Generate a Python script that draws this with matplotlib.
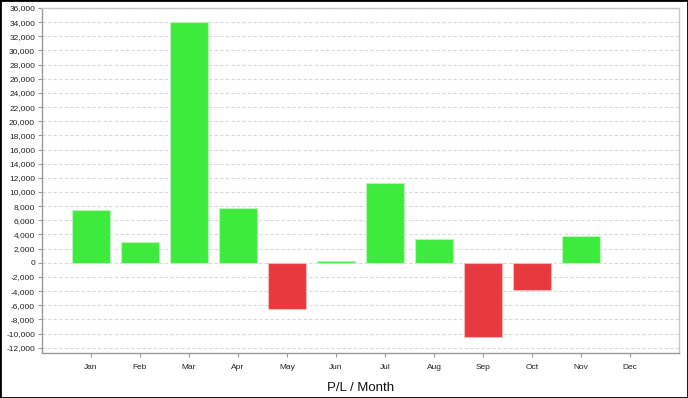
import matplotlib
matplotlib.use("Agg")
import matplotlib.pyplot as plt
from matplotlib.ticker import FuncFormatter, MultipleLocator
from matplotlib.patches import Rectangle

months = ["Jan", "Feb", "Mar", "Apr", "May", "Jun", "Jul", "Aug", "Sep", "Oct", "Nov", "Dec"]
pl_values = [7400, 2900, 34000, 7700, -6600, 200, 11300, 3300, -10500, -3900, 3800, 0]

green = "#3DEB3D"
red = "#E8393E"

plt.rcParams["font.family"] = ["Liberation Sans", "DejaVu Sans"]

W, H = 688, 398
fig = plt.figure(figsize=(W / 100, H / 100), dpi=100)
fig.patch.set_facecolor("white")
ax = fig.add_axes([42 / W, 1 - 353 / H, (679 - 42) / W, (353 - 8) / H])

x = list(range(len(months)))
colors = [green if v >= 0 else red for v in pl_values]
edges = ["none" if v == 0 else ("#B8F5B8" if v > 0 else "#F5B8BA") for v in pl_values]
ax.bar(x, pl_values, width=0.76, color=colors, edgecolor=edges, linewidth=0.8, zorder=3)

ax.set_xlim(-1.0, 12.0)
ax.set_ylim(-12750, 36000)
ax.yaxis.set_major_locator(MultipleLocator(2000))
ax.yaxis.set_major_formatter(FuncFormatter(lambda v, p: f"{int(v):,}"))
ax.set_xticks(x)
ax.set_xticklabels(months)

ax.grid(axis="y", color="#D9D9D9", linestyle=(0, (3, 2)), linewidth=0.8, zorder=0)
for s in ["top", "right"]:
    ax.spines[s].set_color("#C8C8C8")
for s in ["left", "bottom"]:
    ax.spines[s].set_color("#999999")
for s in ax.spines.values():
    s.set_linewidth(1.0)

ax.tick_params(axis="both", labelsize=6, colors="#999999", labelcolor="#222222", length=3, width=0.8)
ax.tick_params(axis="y", pad=2)
ax.tick_params(axis="x", pad=5)
ax.set_xlabel("P/L / Month", fontsize=9.5, color="#111111", labelpad=8)

fig.add_artist(Rectangle((0, 0), 1, 1, transform=fig.transFigure, fill=False,
                         edgecolor="black", linewidth=2.0))

fig.savefig("out.png", dpi=100)
